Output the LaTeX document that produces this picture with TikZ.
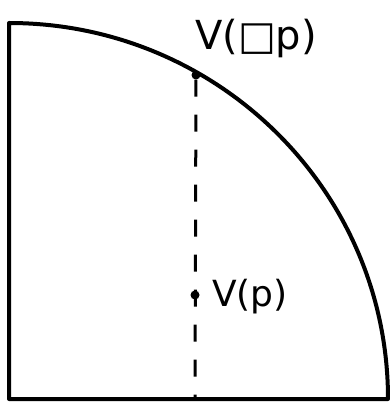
\documentclass[tikz,border=0pt]{standalone}
\usepackage{fontspec}
\setmainfont{DejaVu Sans}
\begin{document}
\begin{tikzpicture}[x=1pt,y=-1pt,
  outline/.style={line width=4pt,line cap=round,line join=round},
  dashline/.style={line width=3pt,dash pattern=on 17pt off 18pt},
  dotmark/.style={circle,fill=black,inner sep=0pt,minimum size=9pt},
  hand/.style={font=\fontsize{40}{40}\selectfont,inner sep=0pt}]
\useasboundingbox (0,0) rectangle (389,403);
\coordinate (top) at (9,23);
\coordinate (corner) at (9,399);
\coordinate (right) at (388,399);
\draw[outline] (right) -- (corner) -- (top)
  arc[start angle=-90,end angle=0,x radius=379,y radius=376];
\node[dotmark] (vbox) at (196,75) {};
\node[dotmark] (vp) at (195,295) {};
\coordinate (foot) at (195,399);
\draw[dashline] (vbox) -- (foot);
\node[hand] (lbox) at (256,38) {V(□p)};
\node[hand,font=\fontsize{36}{36}\selectfont] (lp) at (250,297) {V(p)};
\end{tikzpicture}
\end{document}
